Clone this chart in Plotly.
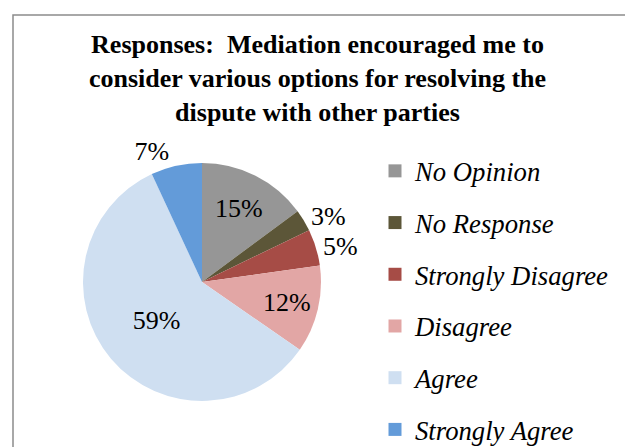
import plotly.graph_objects as go

title = "Responses:  Mediation encouraged me to<br>consider various options for resolving the<br>dispute with other parties"
labels = ["No Opinion", "No Response", "Strongly Disagree", "Disagree", "Agree", "Strongly Agree"]
values = [15, 3, 5, 12, 59, 7]
colors = ["#969696", "#5c5638", "#a64c46", "#e2a6a5", "#cfdff1", "#639bd9"]
label_pos = ["inside", "outside", "outside", "inside", "inside", "outside"]

serif = "Liberation Serif"

fig = go.Figure()
fig.add_trace(go.Pie(
    labels=labels, values=values, sort=False, direction="clockwise", rotation=0,
    marker=dict(colors=colors, line=dict(width=0)),
    texttemplate="%{value}%", textposition=label_pos,
    insidetextorientation="horizontal",
    textfont=dict(family=serif, size=26, color="black"),
    showlegend=False, hoverinfo="label+value",
    domain=dict(x=[75 / 633, 313 / 633], y=[1 - 393 / 447, 1 - 155 / 447]),
))

# legend entries as separate traces so the item spacing can follow the original
for lab, col in zip(labels, colors):
    fig.add_trace(go.Scatter(
        x=[None], y=[None], mode="markers", name=lab, legendgroup=lab,
        marker=dict(symbol="square", size=13, color=col),
    ))

fig.update_layout(
    width=633, height=447,
    margin=dict(l=0, r=0, t=0, b=0, autoexpand=False),
    paper_bgcolor="white", plot_bgcolor="white",
    title=dict(text=title, x=0.5 - 7 / 633, xanchor="center", y=1 - 45 / 447, yanchor="top",
               font=dict(family=serif, size=26, color="black", weight="bold")),
    xaxis=dict(visible=False), yaxis=dict(visible=False),
    legend=dict(x=367 / 633, xanchor="left", y=1 - 139 / 447, yanchor="top",
                font=dict(family=serif, size=26.7, color="black", style="italic"),
                tracegroupgap=14, bgcolor="rgba(0,0,0,0)"),
    shapes=[dict(type="rect", xref="paper", yref="paper", x0=5 / 633, x1=628 / 633,
                 y0=-0.05, y1=1 - 7 / 447, line=dict(color="#8c8c8c", width=1.5))],
)

fig.write_html("out.html")
